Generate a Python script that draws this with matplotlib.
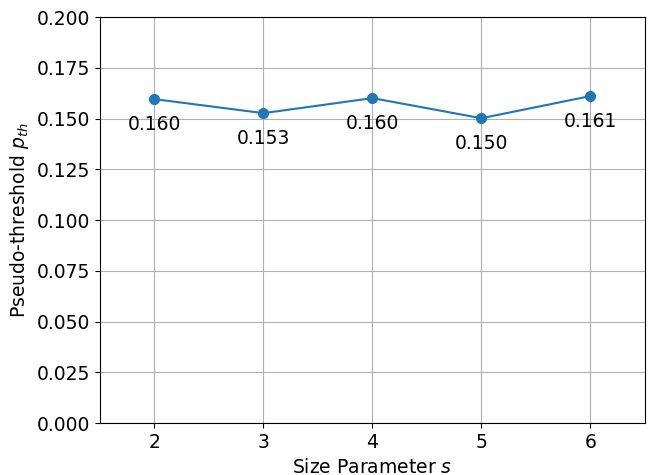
import numpy as np
import matplotlib
matplotlib.use("Agg")
import matplotlib.pyplot as plt

# size parameter vs pseudo-threshold
sizes = [2, 3, 4, 5, 6]
p_th = [0.1596, 0.1527, 0.1601, 0.1502, 0.1611]

plt.rcParams['font.size'] = 13.5

fig, ax = plt.subplots(figsize=(6.58, 4.75), dpi=100)
ax.plot(sizes, p_th, marker='o', markersize=7, color='C0')
for s, p in zip(sizes, p_th):
    ax.annotate(f"{p:.3f}", (s, p), xytext=(0, -18), textcoords='offset points',
                ha='center', va='center')

ax.set_xlim(1.5, 6.5)
ax.set_ylim(0, 0.2)
ax.set_xticks(sizes)
ax.set_yticks(np.arange(0, 0.2001, 0.025))
ax.set_xlabel('Size Parameter $s$')
ax.set_ylabel('Pseudo-threshold $p_{th}$')
ax.grid(True)

fig.subplots_adjust(left=0.152, right=0.980, top=0.964, bottom=0.109)
plt.savefig('out.png')
